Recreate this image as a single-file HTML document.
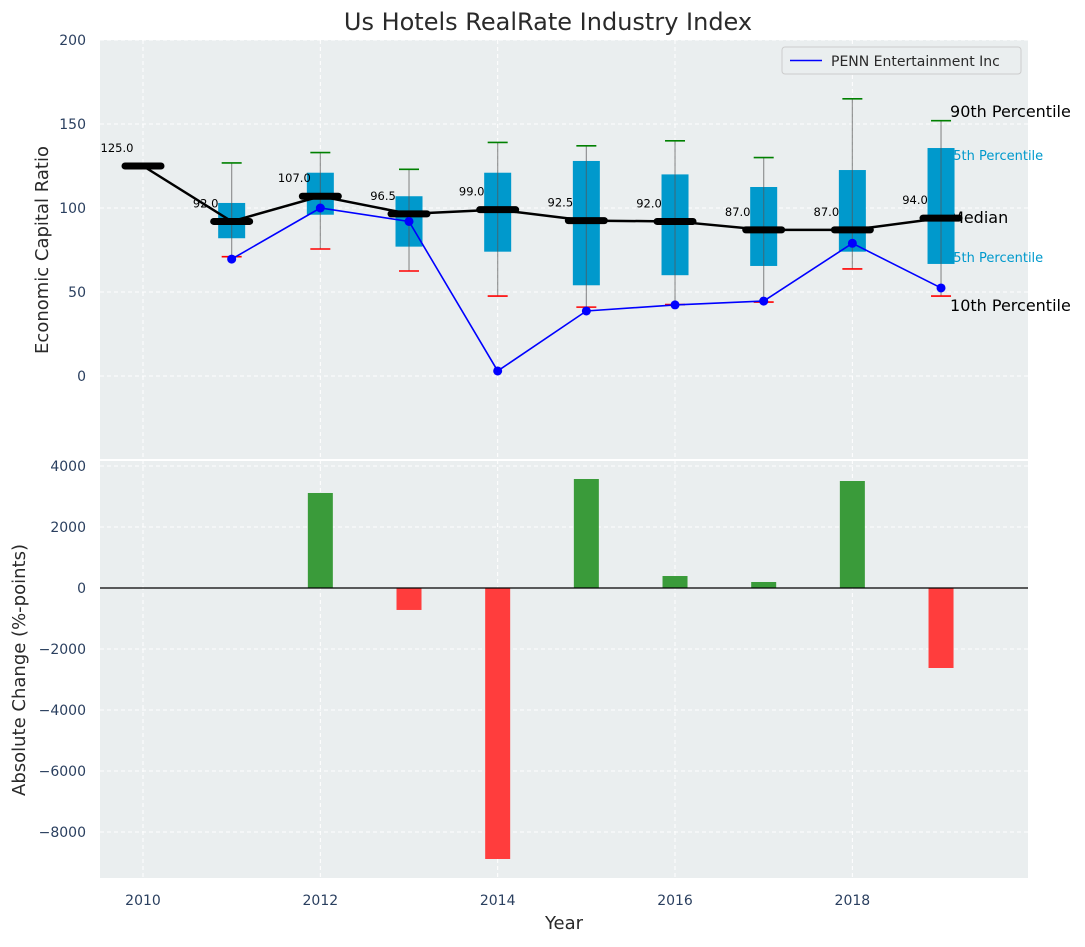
<!DOCTYPE html>
<html><head><meta charset="utf-8"><style>
body{margin:0;background:#fff;font-family:"Liberation Sans","DejaVu Sans",sans-serif}
svg text{font-family:"DejaVu Sans","Liberation Sans",sans-serif}
</style></head><body>
<svg id="c" width="1085" height="942" xmlns="http://www.w3.org/2000/svg"></svg>
<script>
const years=[2010,2011,2012,2013,2014,2015,2016,2017,2018,2019];
const medians=[125,92,107,96.5,99,92.5,92,87,87,94];
const q1=[null,82,96,77,74,54,60,65.5,74,66.7];
const q3=[null,103,121,107,121,128,120,112.5,122.6,135.7];
const p10=[null,71,75.6,62.5,47.6,41,42.5,44,63.7,47.6];
const p90=[null,126.8,133,123,139,137,140,130,165,152];
const penn=[null,69.6,100,92,3,38.7,42.3,44.6,79,52.4];
const changes=[null,null,3115,-720,-8885,3574,393,197,3508,-2623];
const topTicks=[0,50,100,150,200];
const botTicks=[-8000,-6000,-4000,-2000,0,2000,4000];
const xTicks=[2010,2012,2014,2016,2018];

const svg=document.getElementById('c');
const NS='http://www.w3.org/2000/svg';
function mk(t,a,p){const e=document.createElementNS(NS,t);for(const k in a)e.setAttribute(k,a[k]);(p||svg).appendChild(e);return e;}
const L=100,R=1028;
const x=v=>143+(v-2010)*88.67;
const T0=40,T1=459,yT=v=>376-v*1.68;
const B0=460,B1=878,yB=v=>588-v*61/2000;
const tickCol='#2a3f5f';

let e=mk('text',{x:548,y:30,'text-anchor':'middle','font-size':24,fill:'#2a2a2a'});e.textContent='Us Hotels RealRate Industry Index';


e=mk('rect',{x:L,y:T0,width:R-L,height:T1-T0,fill:'#eaeeef'});

e=mk('rect',{x:L,y:B0+1,width:R-L,height:B1-B0-1,fill:'#eaeeef'});

topTicks.forEach(t=>{mk('line',{x1:L,x2:R,y1:yT(t),y2:yT(t),stroke:'#fff','stroke-dasharray':'4,3'});
 e=mk('text',{x:L-14,y:yT(t)+5,'text-anchor':'end','font-size':14,fill:tickCol});e.textContent=t;
 });
botTicks.forEach(t=>{mk('line',{x1:L,x2:R,y1:yB(t),y2:yB(t),stroke:'#fff','stroke-dasharray':'4,3'});
 e=mk('text',{x:L-14,y:yB(t)+5,'text-anchor':'end','font-size':14,fill:tickCol});e.textContent=(t<0?'\u2212'+(-t):t);
 });
xTicks.forEach(t=>{mk('line',{x1:x(t),x2:x(t),y1:T0,y2:T1,stroke:'#fff','stroke-dasharray':'4,3'});
 mk('line',{x1:x(t),x2:x(t),y1:B0,y2:B1,stroke:'#fff','stroke-dasharray':'4,3'});
 e=mk('text',{x:x(t),y:B1+27,'text-anchor':'middle','font-size':14,fill:tickCol});e.textContent=t;
 });

e=mk('text',{x:48,y:250,'text-anchor':'middle','font-size':18,fill:'#2a2a2a',transform:'rotate(-90 48 250)'});e.textContent='Economic Capital Ratio';

e=mk('text',{x:25,y:670,'text-anchor':'middle','font-size':18,fill:'#2a2a2a',transform:'rotate(-90 25 670)'});e.textContent='Absolute Change (%-points)';

e=mk('text',{x:564,y:929,'text-anchor':'middle','font-size':18,fill:'#2a2a2a'});e.textContent='Year';


// percentile labels
const lx=x(2019)+9;
[['90th Percentile',117,16,'#000',lx],['75th Percentile',160,13,'#0099cc',lx-5],['Median',223,16,'#000',lx],['25th Percentile',262,13,'#0099cc',lx-5],['10th Percentile',311,16,'#000',lx]].forEach(([s,by,fs,c,xx])=>{
 e=mk('text',{x:xx,y:by,'font-size':fs,fill:c});e.textContent=s;
 });

years.forEach((yr,i)=>{
 if(q1[i]==null)return;
 const g=mk('g',{});
 const cx=x(yr);
 mk('rect',{x:cx-13.5,y:yT(q3[i]),width:27,height:yT(q1[i])-yT(q3[i]),fill:'#0099cc'},g);
 mk('line',{x1:cx,x2:cx,y1:yT(p90[i]),y2:yT(p10[i]),stroke:'#555','stroke-opacity':0.6,'stroke-width':1.2},g);
 mk('line',{x1:cx-10,x2:cx+10,y1:yT(p90[i]),y2:yT(p90[i]),stroke:'green','stroke-width':1.6},g);
 mk('line',{x1:cx-10,x2:cx+10,y1:yT(p10[i]),y2:yT(p10[i]),stroke:'red','stroke-width':1.6},g);
});
e=mk('polyline',{points:years.map((yr,i)=>x(yr)+','+yT(medians[i])).join(' '),fill:'none',stroke:'#000','stroke-width':2.5});

years.forEach((yr,i)=>{
 e=mk('line',{x1:x(yr)-18,x2:x(yr)+18,y1:yT(medians[i]),y2:yT(medians[i]),stroke:'#000','stroke-width':7,'stroke-linecap':'round'});
 
 e=mk('text',{x:x(yr)-26,y:yT(medians[i])-14,'text-anchor':'middle','font-size':11.5,fill:'#000'});e.textContent=medians[i].toFixed(1);
 
});
const pts=years.map((yr,i)=>penn[i]==null?null:[x(yr),yT(penn[i])]).filter(p=>p);
e=mk('polyline',{points:pts.map(p=>p.join(',')).join(' '),fill:'none',stroke:'blue','stroke-width':1.6});

pts.forEach(p=>{e=mk('circle',{cx:p[0],cy:p[1],r:4.5,fill:'blue'});
 });

const lg=mk('g',{});
mk('rect',{x:782,y:47,width:239,height:27,rx:3,fill:'#eaeeef',stroke:'#ccc'},lg);
mk('line',{x1:790,x2:822,y1:60.5,y2:60.5,stroke:'blue','stroke-width':1.6},lg);
e=mk('text',{x:831,y:66,'font-size':14,fill:'#2a2a2a'},lg);e.textContent='PENN Entertainment Inc';

years.forEach((yr,i)=>{
 if(changes[i]==null)return;
 const v=changes[i],y0=yB(0),y1=yB(v);
 e=mk('rect',{x:x(yr)-12.5,y:Math.min(y0,y1),width:25,height:Math.abs(y1-y0),fill:v>=0?'#3a9b3a':'#ff3d3d'});
 
});
e=mk('line',{x1:L,x2:R,y1:yB(0),y2:yB(0),stroke:'#000','stroke-width':1.3});

</script>
</body></html>
